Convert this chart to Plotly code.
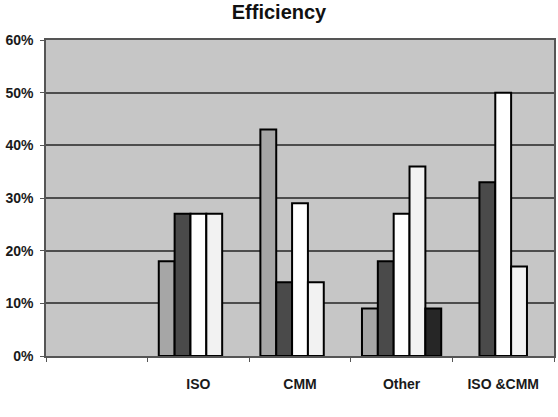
import plotly.graph_objects as go

categories = ["", "ISO", "CMM", "Other", "ISO &CMM"]
series1 = [None, 18, 43, 9, None]
series2 = [None, 27, 14, 18, 33]
series3 = [None, 27, 29, 27, 50]
series4 = [None, 27, 14, 36, 17]
series5 = [None, None, None, 9, None]
y_ticks = [0, 10, 20, 30, 40, 50, 60]
y_labels = ["0%", "10%", "20%", "30%", "40%", "50%", "60%"]

xpos = list(range(len(categories)))
fills = ["#a6a6a6", "#4a4a4a", "#ffffff", "#f2f2f2", "#262626"]
all_series = [series1, series2, series3, series4, series5]

fig = go.Figure()
for i, s in enumerate(all_series):
    fig.add_trace(go.Bar(
        x=xpos, y=s, name=f"S{i+1}",
        marker=dict(color=fills[i], line=dict(color="#000000", width=2)),
    ))

fig.update_layout(
    width=558, height=417,
    margin=dict(l=46, r=2, t=40, b=61),
    paper_bgcolor="#ffffff",
    plot_bgcolor="#c6c6c6",
    barmode="group", bargap=0.22, bargroupgap=0,
    showlegend=False,
    title=dict(text="<b>Efficiency</b>", x=0.5, xanchor="center", y=0.988, yanchor="top",
               pad=dict(t=0),
               font=dict(family="Liberation Sans, Arial", size=20, color="#111111")),
    font=dict(family="Liberation Sans, Arial", size=14, color="#1a1a1a"),
)
fig.update_xaxes(
    range=[-0.5, 4.5], tickmode="array", tickvals=xpos,
    ticktext=[f"<b>{c}</b>" if c else "" for c in categories],
    ticks="", showgrid=False, zeroline=False,
    showline=True, linecolor="#555555", linewidth=1.5, mirror=True,
    ticklabelstandoff=14,
    tickfont=dict(size=14, color="#1a1a1a"),
    minor=dict(tick0=0.5, dtick=1, ticks="outside", ticklen=4, tickcolor="#555555", showgrid=False),
)
fig.update_yaxes(
    range=[0, 60], tickmode="array", tickvals=y_ticks,
    ticktext=[f"<b>{t}</b>" for t in y_labels],
    ticks="outside", ticklen=4, tickcolor="#555555",
    ticklabelstandoff=4,
    showgrid=True, gridcolor="#4d4d4d", gridwidth=1.5, zeroline=False,
    showline=True, linecolor="#555555", linewidth=1.5, mirror=True,
    tickfont=dict(size=14, color="#1a1a1a"),
)
fig.write_html("out.html")
